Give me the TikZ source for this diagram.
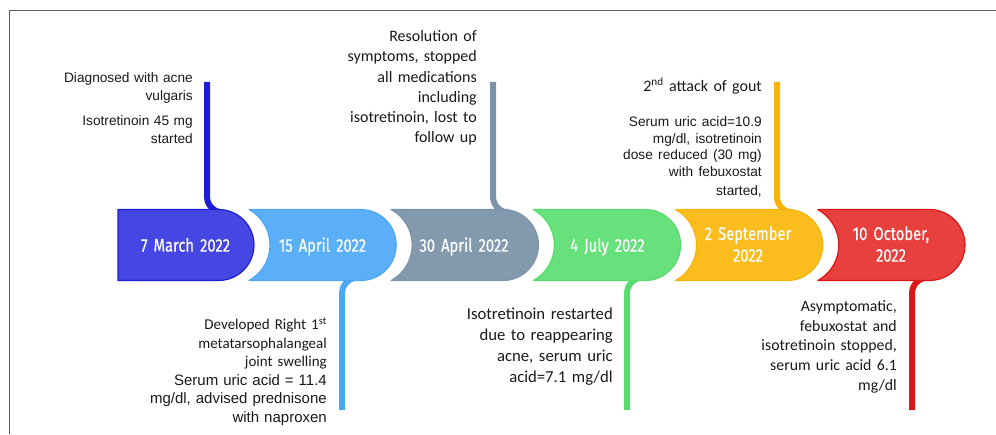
\documentclass[tikz,border=0pt]{standalone}
\usepackage{fontspec}
\usepackage{tikz}

\newfontfamily\arialfont{Liberation Sans}
\newfontfamily\calfont{Carlito}
\newfontfamily\datefont[FakeStretch=0.8,FakeBold=0.4]{Fira Sans}

\definecolor{blueA}{HTML}{4646E2}
\definecolor{blueL}{HTML}{1D1DD3}
\definecolor{skyB}{HTML}{5BAFF9}
\definecolor{skyL}{HTML}{4FA7F4}
\definecolor{greyC}{HTML}{8299AE}
\definecolor{greyL}{HTML}{7B94AB}
\definecolor{greenD}{HTML}{66E17C}
\definecolor{greenL}{HTML}{58DC6D}
\definecolor{amberE}{HTML}{FBBC1E}
\definecolor{amberL}{HTML}{F7B406}
\definecolor{redF}{HTML}{E8403F}
\definecolor{redL}{HTML}{DC1717}
\definecolor{framegrey}{HTML}{5A5A5A}

\begin{document}
\begin{tikzpicture}[x=1pt, y=1pt, line join=round,
  box/.style 2 args={fill=#1, draw=#2, line width=1.2pt},
  tail/.style={draw=#1, line width=6pt, rounded corners=16pt},
  date/.style={text=white, font=\datefont\fontsize{18.4}{21.7}\selectfont,
    inner sep=0pt, align=center, text width=120pt, anchor=base},
  note/.style={text=black!90, inner sep=0pt, align=right, text width=200pt,
    anchor=base east}]
  \useasboundingbox (0,0) rectangle (996,434);
  \draw[framegrey, line width=1pt] (9,0) -- (9,423) -- (996,423);

  % tails
  \coordinate (t1) at (207,352);  \coordinate (j1) at (223,221.5);
  \coordinate (t2) at (342,24);   \coordinate (j2) at (358,156.5);
  \coordinate (t3) at (493,352);  \coordinate (j3) at (509,221.5);
  \coordinate (t4) at (627,24);   \coordinate (j4) at (643,156.5);
  \coordinate (t5) at (777,352);  \coordinate (j5) at (793,221.5);
  \coordinate (t6) at (912,24);   \coordinate (j6) at (928,156.5);
  \draw[tail=blueL] (t1) |- (j1);
  \draw[tail=skyL] (t2) |- (j2);
  \draw[tail=greyL] (t3) |- (j3);
  \draw[tail=greenL] (t4) |- (j4);
  \draw[tail=amberL] (t5) |- (j5);
  \draw[tail=redL] (t6) |- (j6);

  % date boxes
  \filldraw[box={blueA}{blueL}] (118,224.5) -- (218.5,224.5)
    arc[start angle=90, end angle=-90, radius=35.5] -- (118,153.5) -- cycle;
  \filldraw[box={skyB}{skyL}] (249,224.5) -- (360.7,224.5)
    arc[start angle=90, end angle=-90, radius=35.5] -- (249,153.5)
    arc[start angle=-61.2, end angle=61.2, radius=40.5] -- cycle;
  \filldraw[box={greyC}{greyL}] (391.2,224.5) -- (502.9,224.5)
    arc[start angle=90, end angle=-90, radius=35.5] -- (391.2,153.5)
    arc[start angle=-61.2, end angle=61.2, radius=40.5] -- cycle;
  \filldraw[box={greenD}{greenL}] (533.4,224.5) -- (645.1,224.5)
    arc[start angle=90, end angle=-90, radius=35.5] -- (533.4,153.5)
    arc[start angle=-61.2, end angle=61.2, radius=40.5] -- cycle;
  \filldraw[box={amberE}{amberL}] (675.6,224.5) -- (787.3,224.5)
    arc[start angle=90, end angle=-90, radius=35.5] -- (675.6,153.5)
    arc[start angle=-61.2, end angle=61.2, radius=40.5] -- cycle;
  \filldraw[box={redF}{redL}] (817.8,224.5) -- (929.5,224.5)
    arc[start angle=90, end angle=-90, radius=35.5] -- (817.8,153.5)
    arc[start angle=-61.2, end angle=61.2, radius=40.5] -- cycle;

  \node[date] (d1) at (185.5,182.3) {7 March 2022};
  \node[date] (d2) at (322.5,182.3) {15 April 2022};
  \node[date] (d3) at (464,182.3) {30 April 2022};
  \node[date] (d4) at (607.5,182.3) {4 July 2022};
  \node[date] (d5) at (748,194) {2 September\\2022};
  \node[date] (d6) at (891,194) {10 October,\\2022};

  % events
  \node[note, font=\arialfont\fontsize{13.7}{17.5}\selectfont] (e1) at (193,351.3)
    {Diagnosed with acne\\vulgaris\par\vspace{8pt}Isotretinoin 45 mg\\started};
  \node[note, font=\calfont\fontsize{15}{18.5}\selectfont] (e2) at (327,104)
    {Developed Right 1\textsuperscript{st}\\metatarsophalangeal\\joint swelling\par
     \arialfont\fontsize{15}{18.3}\selectfont Serum uric acid = 11.4\\mg/dl, advised prednisone\\with naproxen};
  \node[note, font=\calfont\fontsize{16}{20.2}\selectfont] (e3) at (477,392.3)
    {Resolution of\\symptoms, stopped\\all medications\\including\\isotretinoin, lost to\\follow up};
  \node[note, font=\calfont\fontsize{16.7}{21}\selectfont] (e4) at (613,114)
    {Isotretinoin restarted\\due to reappearing\\acne, serum uric\\acid=7.1 mg/dl};
  \node[note, font=\calfont\fontsize{16}{19}\selectfont] (e5) at (762,342)
    {2\textsuperscript{nd} attack of gout\par\vspace{18.2pt}
     \arialfont\fontsize{13.7}{16.5}\selectfont Serum uric acid=10.9\\mg/dl, isotretinoin\\dose reduced (30 mg)\\with febuxostat\\started,};
  \node[note, font=\calfont\fontsize{15.8}{19.8}\selectfont] (e6) at (897,122.7)
    {Asymptomatic,\\febuxostat and\\isotretinoin stopped,\\serum uric acid 6.1\\mg/dl};
\end{tikzpicture}
\end{document}
